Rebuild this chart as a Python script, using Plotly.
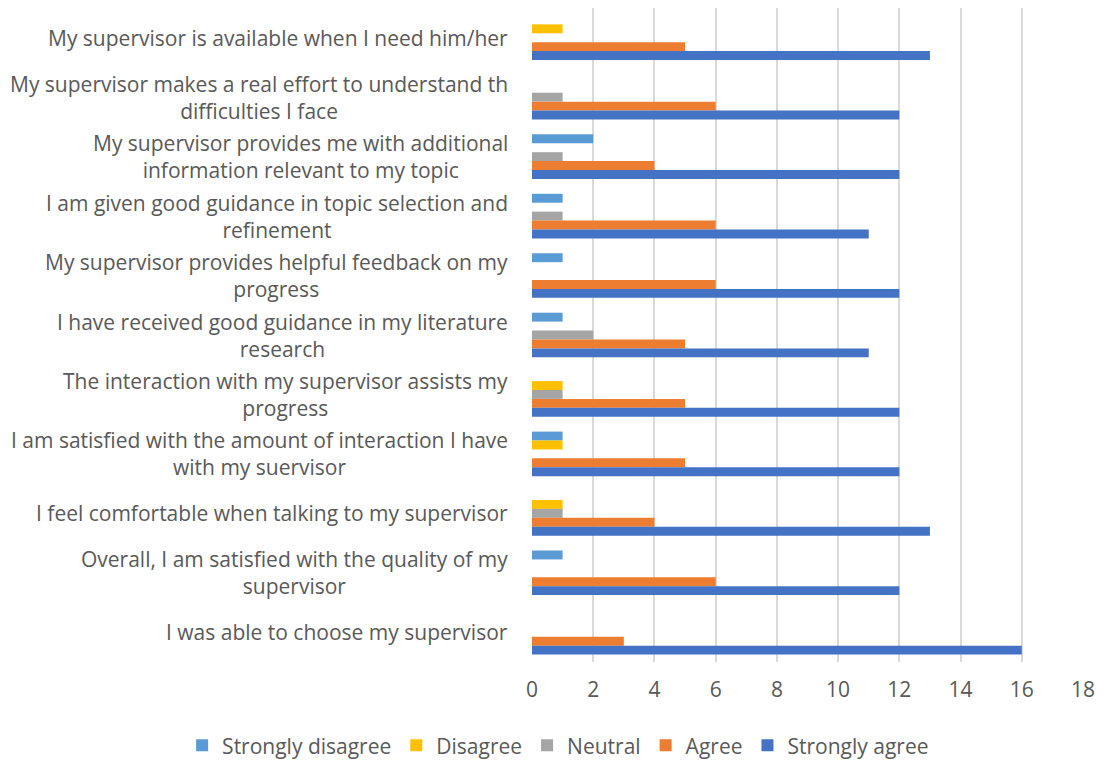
import plotly.graph_objects as go

# categories listed top to bottom as they appear
categories = [
    "My supervisor is available when I need him/her",
    "My supervisor makes a real effort to understand th<br>difficulties I face",
    "My supervisor provides me with additional<br>information relevant to my topic",
    "I am given good guidance in topic selection and<br>refinement",
    "My supervisor provides helpful feedback on my<br>progress",
    "I have received good guidance in my literature<br>research",
    "The interaction with my supervisor assists my<br>progress",
    "I am satisfied with the amount of interaction I have<br>with my suervisor",
    "I feel comfortable when talking to my supervisor",
    "Overall, I am satisfied with the quality of my<br>supervisor",
    "I was able to choose my supervisor",
]

strongly_disagree = [0, 0, 2, 1, 1, 1, 0, 1, 0, 1, 0]
disagree = [1, 0, 0, 0, 0, 0, 1, 1, 1, 0, 0]
neutral = [0, 1, 1, 1, 0, 2, 1, 0, 1, 0, 0]
agree = [5, 6, 4, 6, 6, 5, 5, 5, 4, 6, 3]
strongly_agree = [13, 12, 12, 11, 12, 11, 12, 12, 13, 12, 16]

series = [
    ("Strongly disagree", strongly_disagree, "#5B9BD5"),
    ("Disagree", disagree, "#FFC000"),
    ("Neutral", neutral, "#A5A5A5"),
    ("Agree", agree, "#ED7D31"),
    ("Strongly agree", strongly_agree, "#4472C4"),
]

fig = go.Figure()
for name, vals, color in series:
    fig.add_trace(go.Bar(
        y=categories, x=vals, name=name, orientation="h",
        marker=dict(color=color, line=dict(width=0)),
    ))

# category labels centred like the original, right edge next to the axis
for cat in categories:
    fig.add_annotation(
        x=0, xref="paper", xanchor="right", xshift=-22,
        y=cat, yref="y", yanchor="middle",
        text=cat, showarrow=False, align="center",
        font=dict(size=21, color="#595959"),
    )

fig.update_layout(
    width=1097, height=754,
    barmode="group", bargap=0.25, bargroupgap=0,
    plot_bgcolor="white", paper_bgcolor="white",
    font=dict(family="Open Sans", size=21, color="#595959"),
    margin=dict(l=524, r=22, t=0, b=100, autoexpand=False),
    legend=dict(orientation="h", x=-0.635, xanchor="left", y=-0.128, yanchor="middle",
                font=dict(size=21, color="#595959"), itemwidth=30, tracegroupgap=0),
    showlegend=True,
)
fig.update_xaxes(range=[0, 18], dtick=2, showgrid=True, gridcolor="#D9D9D9", gridwidth=1.5,
                 zeroline=False, showline=False, ticks="", ticklabelstandoff=13,
                 tickfont=dict(size=21, color="#595959"))
fig.update_yaxes(autorange="reversed", showticklabels=False, showgrid=False, zeroline=False,
                 showline=False)

fig.write_html("out.html")
